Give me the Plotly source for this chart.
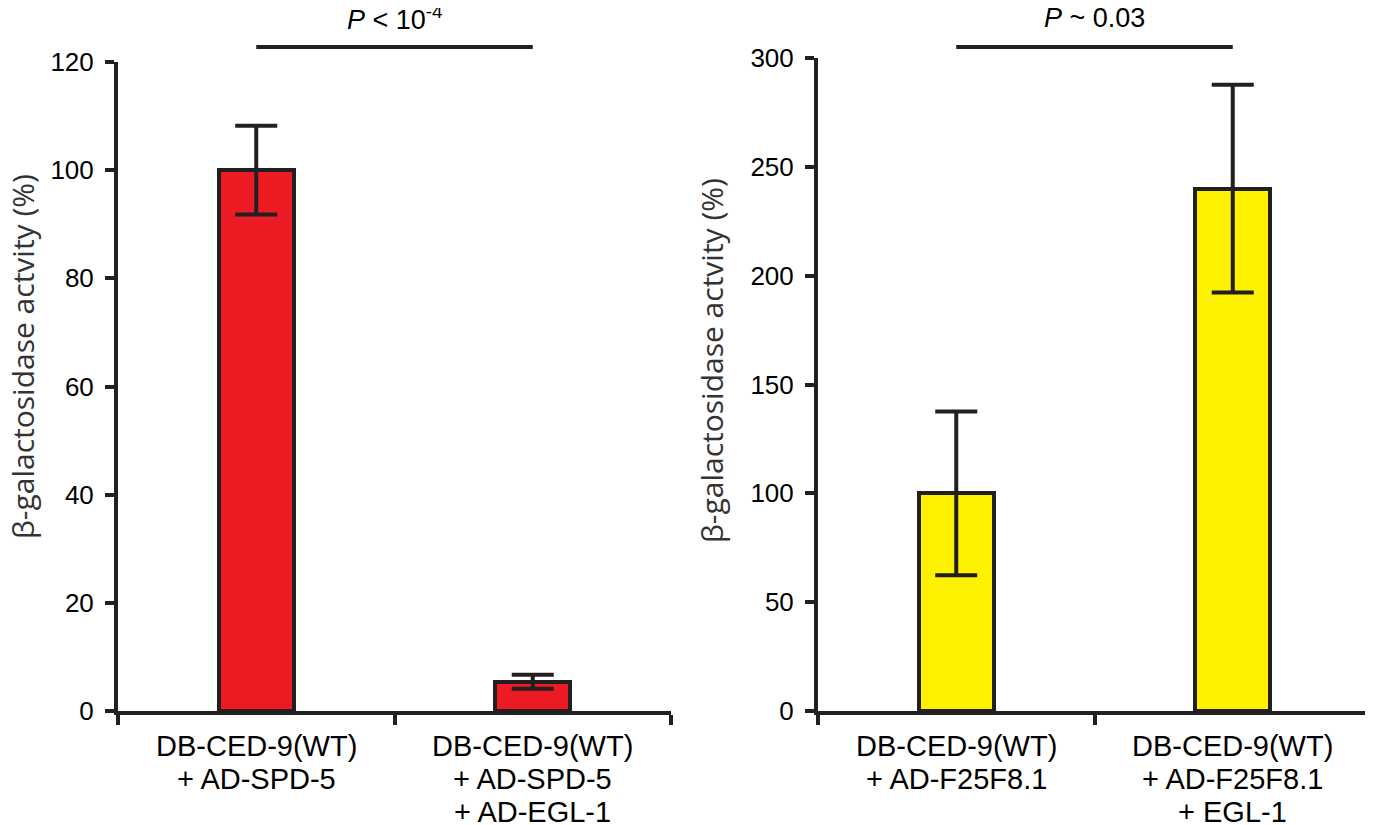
import plotly.graph_objects as go

# page body adds an 8px offset; size the figure to fit the window and shift coordinates
OFF = 8
W, H = 1373 - OFF, 825 - OFF

cats_left = ["DB-CED-9(WT)<br>+ AD-SPD-5", "DB-CED-9(WT)<br>+ AD-SPD-5<br>+ AD-EGL-1"]
vals_left = [100, 5.4]
err_left = [8.2, 1.3]

cats_right = ["DB-CED-9(WT)<br>+ AD-F25F8.1", "DB-CED-9(WT)<br>+ AD-F25F8.1<br>+ EGL-1"]
vals_right = [100, 240]
err_right = [37.6, 47.7]

ytitle_left = "β-galactosidase actvity (%)"
ytitle_right = "β-galactosidase actvity (%)"
p_left = "<i>P</i> < 10<sup>-4</sup>"
p_right = "<i>P</i> ~ 0.03"

INK = "#231f20"
RED = "#ED1C24"
YEL = "#FFF200"
FONT = "Liberation Sans, Arial, sans-serif"


def px(x):
    return (x - OFF) / W


def py(y):
    return 1 - (y - OFF) / H


fig = go.Figure()
fig.add_trace(go.Bar(
    x=cats_left, y=vals_left, width=0.27,
    marker=dict(color=RED, line=dict(color=INK, width=4)),
    error_y=dict(type="data", array=err_left, visible=True, color=INK, thickness=4, width=21),
    xaxis="x", yaxis="y", showlegend=False))
fig.add_trace(go.Bar(
    x=cats_right, y=vals_right, width=0.27,
    marker=dict(color=YEL, line=dict(color=INK, width=4)),
    error_y=dict(type="data", array=err_right, visible=True, color=INK, thickness=4, width=21),
    xaxis="x2", yaxis="y2", showlegend=False))

axis_common = dict(showline=True, linecolor=INK, linewidth=4, ticks="outside",
                   tickwidth=4, tickcolor=INK, showgrid=False, zeroline=False,
                   automargin=False)
yfont = dict(family=FONT, size=26, color="#000")

fig.update_layout(
    width=W, height=H,
    margin=dict(l=0, r=0, t=0, b=0, pad=0),
    plot_bgcolor="white", paper_bgcolor="white",
    bargap=0,
    xaxis=dict(domain=[px(118), px(671)], anchor="y", type="category",
               range=[-0.5, 1.5], tickson="boundaries", ticklen=10,
               showticklabels=False, **axis_common),
    yaxis=dict(domain=[py(711), py(62)], anchor="x", range=[0, 120],
               tickvals=[0, 20, 40, 60, 80, 100, 120], ticklen=9,
               tickfont=yfont, ticklabelstandoff=6, **axis_common),
    xaxis2=dict(domain=[px(818), px(1371)], anchor="y2", type="category",
                range=[-0.5, 1.5], tickson="boundaries", ticklen=10,
                showticklabels=False, **axis_common),
    yaxis2=dict(domain=[py(711), py(58)], anchor="x2", range=[0, 300],
                tickvals=[0, 50, 100, 150, 200, 250, 300], ticklen=9,
                tickfont=yfont, ticklabelstandoff=6, **axis_common),
)

# category labels, one annotation per line for tight line spacing
xfont = dict(family=FONT, size=29, color="#000")
for xref, cats in (("x", cats_left), ("x2", cats_right)):
    for cat in cats:
        for i, line in enumerate(cat.split("<br>")):
            fig.add_annotation(text=line, x=cat, xref=xref, y=py(746 + 33 * i), yref="paper",
                               showarrow=False, font=xfont, xanchor="center", yanchor="middle")

title_font = dict(family="Open Sans, Noto Sans, sans-serif", size=30, color="#333")
fig.add_annotation(text=ytitle_left, x=px(22), y=py(357), xref="paper", yref="paper",
                   textangle=-90, showarrow=False, font=title_font,
                   xanchor="center", yanchor="middle")
fig.add_annotation(text=ytitle_right, x=px(711), y=py(360), xref="paper", yref="paper",
                   textangle=-90, showarrow=False, font=title_font,
                   xanchor="center", yanchor="middle")

pfont = dict(family=FONT, size=27, color="#000")
fig.add_annotation(text=p_left, x=0.5, xref="x", y=py(18), yref="paper",
                   showarrow=False, font=pfont, yanchor="middle")
fig.add_annotation(text=p_right, x=0.5, xref="x2", y=py(18), yref="paper",
                   showarrow=False, font=pfont, yanchor="middle")

fig.add_shape(type="line", xref="x", yref="paper", x0=cats_left[0], x1=cats_left[1],
              y0=py(47), y1=py(47), line=dict(color=INK, width=4))
fig.add_shape(type="line", xref="x2", yref="paper", x0=cats_right[0], x1=cats_right[1],
              y0=py(47), y1=py(47), line=dict(color=INK, width=4))

fig.write_html("out.html")
